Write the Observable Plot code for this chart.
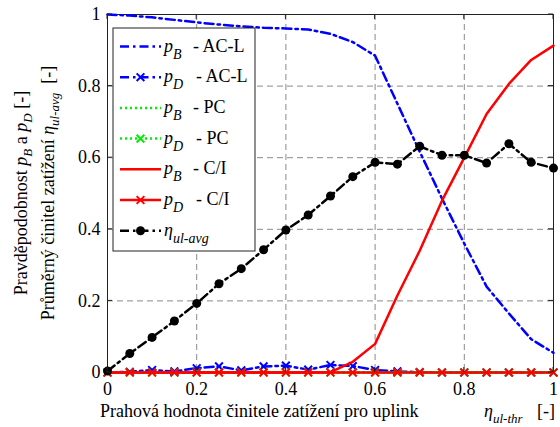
<!DOCTYPE html>
<html><head><meta charset="utf-8">
<script src="https://cdn.jsdelivr.net/npm/d3@7"></script>
<script src="https://cdn.jsdelivr.net/npm/@observablehq/plot@0.6"></script>
</head><body style="margin:0">
<div id="c"></div>
<script>
// threshold eta_ul-thr (x)
const thr = [0, 0.05, 0.1, 0.15, 0.2, 0.25, 0.3, 0.35, 0.4, 0.45, 0.5, 0.55, 0.6, 0.65, 0.7, 0.75, 0.8, 0.85, 0.9, 0.95, 1];
const pB_ACL = [1.0, 0.997, 0.992, 0.985, 0.978, 0.972, 0.967, 0.963, 0.961, 0.958, 0.946, 0.923, 0.885, 0.751, 0.617, 0.486, 0.36, 0.24, 0.165, 0.093, 0.055];
const pD_ACL = [0, 0.002, 0.007, 0.003, 0.012, 0.017, 0.006, 0.017, 0.019, 0.008, 0.021, 0.018, 0.007, 0.003, 0.001, 0, 0, 0, 0, 0, 0];
const pB_PC  = [0, 0, 0, 0, 0, 0, 0, 0, 0, 0, 0, 0, 0, 0, 0, 0, 0, 0, 0, 0, 0];
const pD_PC  = [0, 0, 0, 0, 0, 0, 0, 0, 0, 0, 0, 0, 0, 0, 0, 0, 0, 0, 0, 0, 0];
const pB_CI  = [0, 0, 0, 0, 0, 0, 0, 0, 0, 0, 0.001, 0.03, 0.08, 0.215, 0.34, 0.48, 0.6, 0.722, 0.806, 0.873, 0.913];
const pD_CI  = [0, 0, 0, 0, 0, 0, 0, 0, 0, 0, 0, 0, 0, 0, 0, 0, 0, 0, 0, 0, 0];
const etaAvg = [0.004, 0.053, 0.098, 0.144, 0.193, 0.248, 0.29, 0.343, 0.398, 0.44, 0.493, 0.547, 0.587, 0.582, 0.632, 0.607, 0.607, 0.585, 0.639, 0.587, 0.571];

const xTicks = [0, 0.2, 0.4, 0.6, 0.8, 1];
const yTicks = [0, 0.2, 0.4, 0.6, 0.8, 1];
const gridTicks = [0.2, 0.4, 0.6, 0.8];

(function () {
  const rows = thr.map((x, i) => ({x, pB_ACL: pB_ACL[i], pD_ACL: pD_ACL[i], pB_PC: pB_PC[i], pD_PC: pD_PC[i], pB_CI: pB_CI[i], pD_CI: pD_CI[i], eta: etaAvg[i]}));
  const FONT = "Liberation Serif";
  const FS = 18;
  const DASHDOT = "9,4,2.5,4";
  const DOTTED = "2,3";
  const BLUE = "#0000ff", RED = "#ff0000", GREEN = "#00ee00", BLACK = "#000000";

  const ch = Plot.plot({
    width: 560, height: 427,
    marginLeft: 107, marginRight: 7, marginTop: 14, marginBottom: 55,
    style: {fontFamily: FONT, fontSize: FS + "px"},
    x: {domain: [0, 1]},
    y: {domain: [0, 1]},
    marks: [
      Plot.gridX(gridTicks, {stroke: "#8a8a8a", strokeOpacity: 1, strokeDasharray: "6,4"}),
      Plot.gridY(gridTicks, {stroke: "#8a8a8a", strokeOpacity: 1, strokeDasharray: "6,4"}),
      Plot.frame({stroke: "#222"}),
      Plot.axisX(xTicks, {tickSize: 0, tickPadding: 10, tickFormat: d => String(d), label: null, fontFamily: FONT, fontSize: FS}),
      Plot.axisY(yTicks, {tickSize: 0, tickPadding: 7, tickFormat: d => String(d), label: null, fontFamily: FONT, fontSize: FS}),
      Plot.lineY(rows, {x: "x", y: "pB_ACL", stroke: BLUE, strokeWidth: 2.5, strokeDasharray: DASHDOT}),
      Plot.lineY(rows, {x: "x", y: "pD_ACL", stroke: BLUE, strokeWidth: 2.5, strokeDasharray: DASHDOT}),
      Plot.dot(rows, {x: "x", y: "pD_ACL", symbol: "times", r: 3.6, stroke: BLUE, strokeWidth: 2}),
      Plot.lineY(rows, {x: "x", y: "pB_PC", stroke: GREEN, strokeWidth: 2.5, strokeDasharray: DOTTED}),
      Plot.lineY(rows, {x: "x", y: "pD_PC", stroke: GREEN, strokeWidth: 2.5, strokeDasharray: DOTTED}),
      Plot.dot(rows, {x: "x", y: "pD_PC", symbol: "times", r: 3.6, stroke: GREEN, strokeWidth: 2}),
      Plot.lineY(rows, {x: "x", y: "pB_CI", stroke: RED, strokeWidth: 2.5}),
      Plot.lineY(rows, {x: "x", y: "pD_CI", stroke: RED, strokeWidth: 2.5}),
      Plot.dot(rows, {x: "x", y: "pD_CI", symbol: "times", r: 3.6, stroke: RED, strokeWidth: 2}),
      Plot.lineY(rows, {x: "x", y: "eta", stroke: BLACK, strokeWidth: 2.5, strokeDasharray: DASHDOT}),
      Plot.dot(rows, {x: "x", y: "eta", r: 4.5, fill: BLACK, stroke: "none"})
    ]
  });
  document.getElementById("c").appendChild(ch);

  const s = d3.select(ch);
  const sx = ch.scale("x"), sy = ch.scale("y");
  const x0 = sx.apply(0), x1 = sx.apply(1), y0 = sy.apply(0), y1 = sy.apply(1);

  const tk = s.append("g").attr("stroke", "#222").attr("stroke-width", 1);
  xTicks.forEach(v => {
    const px = sx.apply(v);
    tk.append("line").attr("x1", px).attr("x2", px).attr("y1", y0).attr("y2", y0 - 5);
    tk.append("line").attr("x1", px).attr("x2", px).attr("y1", y1).attr("y2", y1 + 5);
  });
  yTicks.forEach(v => {
    const py = sy.apply(v);
    tk.append("line").attr("y1", py).attr("y2", py).attr("x1", x0).attr("x2", x0 + 5);
    tk.append("line").attr("y1", py).attr("y2", py).attr("x1", x1).attr("x2", x1 - 5);
  });

  function txt(sel) {
    return sel.append("text").attr("font-family", FONT).attr("font-size", FS).attr("fill", "black").attr("text-anchor", "start");
  }

  const xt = txt(s).attr("x", 100).attr("y", 417);
  xt.append("tspan").text("Prahová hodnota činitele zatížení pro uplink");
  xt.append("tspan").attr("x", 484).attr("font-style", "italic").text("η");
  xt.append("tspan").attr("dy", 6).attr("font-style", "italic").attr("font-size", 13).text("ul-thr");
  xt.append("tspan").attr("x", 537).attr("dy", -6).text("[-]");

  const midY = (y0 + y1) / 2;
  const yl1 = txt(s).attr("text-anchor", "middle").attr("transform", `translate(27,${midY}) rotate(-90)`);
  yl1.append("tspan").text("Pravděpodobnost ");
  yl1.append("tspan").attr("font-style", "italic").text("p");
  yl1.append("tspan").attr("dy", 5).attr("font-style", "italic").attr("font-size", 13).text("B");
  yl1.append("tspan").attr("dy", -5).text(" a ");
  yl1.append("tspan").attr("font-style", "italic").text("p");
  yl1.append("tspan").attr("dy", 5).attr("font-style", "italic").attr("font-size", 13).text("D");
  yl1.append("tspan").attr("dy", -5).text(" [-]");

  const yl2 = txt(s).attr("text-anchor", "middle").attr("transform", `translate(54,${midY}) rotate(-90)`);
  yl2.append("tspan").text("Průměrný činitel zatížení ");
  yl2.append("tspan").attr("font-style", "italic").text("η");
  yl2.append("tspan").attr("dy", 5).attr("font-style", "italic").attr("font-size", 13).text("ul-avg");
  yl2.append("tspan").attr("dy", -5).text("  [-]");

  const legendItems = [
    {sym: "p", sub: "B", label: "- AC-L", color: BLUE, dash: DASHDOT, marker: null},
    {sym: "p", sub: "D", label: "- AC-L", color: BLUE, dash: DASHDOT, marker: "times"},
    {sym: "p", sub: "B", label: "- PC", color: GREEN, dash: DOTTED, marker: null},
    {sym: "p", sub: "D", label: "- PC", color: GREEN, dash: DOTTED, marker: "times"},
    {sym: "p", sub: "B", label: "- C/I", color: RED, dash: null, marker: null},
    {sym: "p", sub: "D", label: "- C/I", color: RED, dash: null, marker: "times"},
    {sym: "η", sub: "ul-avg", label: "", color: BLACK, dash: DASHDOT, marker: "dot"}
  ];
  const lg = s.append("g");
  lg.append("rect").attr("x", 113).attr("y", 28).attr("width", 142).attr("height", 223)
    .attr("fill", "white").attr("stroke", "#222").attr("stroke-width", 1);
  legendItems.forEach((d, i) => {
    const cy = 46.5 + i * 30.7;
    lg.append("line").attr("x1", 120).attr("x2", 161).attr("y1", cy).attr("y2", cy)
      .attr("stroke", d.color).attr("stroke-width", 2.5).attr("stroke-dasharray", d.dash);
    if (d.marker === "times") {
      lg.append("path").attr("d", d3.symbol(d3.symbolTimes, 3.6 * 3.6 * Math.PI)())
        .attr("transform", `translate(140.5,${cy})`).attr("fill", "none").attr("stroke", d.color).attr("stroke-width", 2);
    } else if (d.marker === "dot") {
      lg.append("circle").attr("cx", 140.5).attr("cy", cy).attr("r", 4.5).attr("fill", d.color);
    }
    const t = txt(lg).attr("x", 164).attr("y", cy + 5);
    t.append("tspan").attr("font-style", "italic").text(d.sym);
    t.append("tspan").attr("dy", 7).attr("font-style", "italic").attr("font-size", 14).text(d.sub);
    if (d.label) t.append("tspan").attr("dy", -7).attr("x", d.sub === "D" ? 196 : 193).text(d.label);
  });
})();
</script>
</body></html>
